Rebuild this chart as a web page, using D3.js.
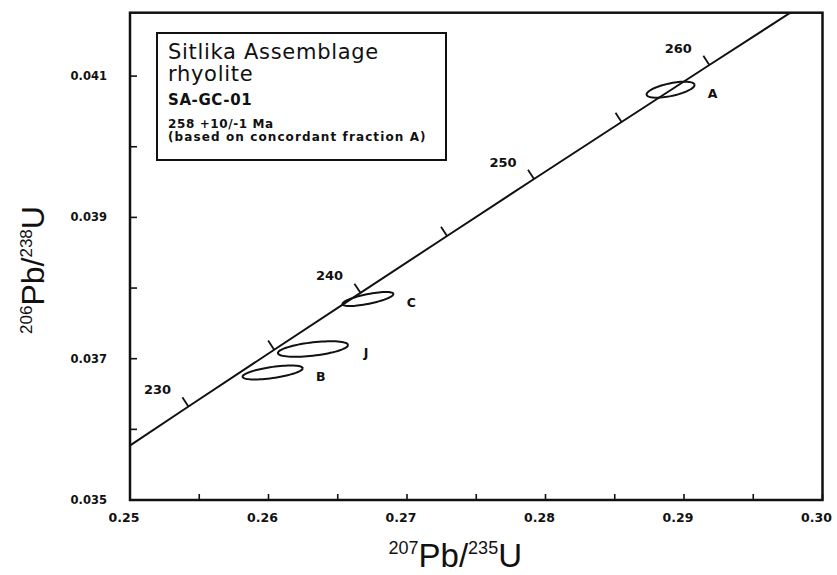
<!DOCTYPE html>
<head>
  <meta charset="utf-8">
  <script src="https://d3js.org/d3.v7.min.js"></script>
  <style>
    body { margin:0; background:#fff; }
    text { font-family: "DejaVu Sans", sans-serif; fill:#111; }
    .frame { fill:none; stroke:#111; stroke-width:2.5px; }
    .concordia { fill:none; stroke:#111; stroke-width:2px; }
    .ellipse { fill:none; stroke:#111; stroke-width:2px; }
    .tick line { stroke:#111; stroke-width:1.6px; }
    .lbl { font-weight:bold; font-size:12px; }
  </style>
</head>

<body>
  <script>
    // concordia points (age in Ma, 207Pb/235U, 206Pb/238U)
    var concAge = [225, 230, 235, 240, 245, 250, 255, 260, 265, 270];
    var concX = [0.24806, 0.25422, 0.26041, 0.26664, 0.27289, 0.27917, 0.28549, 0.29183, 0.29821, 0.30462];
    var concY = [0.035519, 0.036323, 0.037127, 0.037932, 0.038737, 0.039543, 0.040350, 0.041157, 0.041965, 0.042773];
    var tickAges = [230, 235, 240, 245, 250, 255, 260];
    var labelAges = [230, 240, 250, 260];

    // zircon fractions: centre, half widths and error correlation
    var fracName = ["A", "B", "C", "J"];
    var fracX = [0.28903, 0.26030, 0.26718, 0.26321];
    var fracY = [0.040808, 0.036805, 0.037845, 0.037137];
    var fracSx = [0.00173, 0.00217, 0.00184, 0.00253];
    var fracSy = [0.000113, 0.000099, 0.000099, 0.000110];
    var fracRho = [0.59, 0.60, 0.71, 0.51];

    var xTicks = [0.25, 0.26, 0.27, 0.28, 0.29, 0.30];
    var xTickLabels = ["0.25", "0.26", "0.27", "0.28", "0.29", "0.30"];
    var xMinor = [0.255, 0.265, 0.275, 0.285, 0.295];
    var yTicks = [0.035, 0.037, 0.039, 0.041];
    var yTickLabels = ["0.035", "0.037", "0.039", "0.041"];
    var yMinor = [0.036, 0.038, 0.040];

    var boxLines = ["Sitlika Assemblage", "rhyolite", "SA-GC-01", "258 +10/-1 Ma", "(based on concordant fraction A)"];

    var margin = {top: 12.7, right: 14.5, bottom: 75, left: 130},
        width = 837 - margin.left - margin.right,
        height = 575 - margin.top - margin.bottom;

    var svg = d3.select("body").append("svg")
        .attr("width", 837)
        .attr("height", 575);

    var g = svg.append("g")
        .attr("transform", "translate(" + margin.left + "," + margin.top + ")");

    var x = d3.scaleLinear().domain([0.25, 0.30]).range([0, width]);
    var y = d3.scaleLinear().domain([0.035, 0.035 + height / 70650]).range([height, 0]);

    svg.append("defs").append("clipPath").attr("id", "plotclip")
      .append("rect").attr("width", width).attr("height", height);

    // bottom axis, ticks pointing inward
    var xAxis = g.append("g")
        .attr("class", "tick")
        .attr("transform", "translate(0," + height + ")");
    xAxis.selectAll("line").data(xTicks.concat(xMinor)).enter().append("line")
        .attr("x1", function(d) { return x(d); })
        .attr("x2", function(d) { return x(d); })
        .attr("y1", 0).attr("y2", -6);
    xAxis.selectAll("text").data(xTicks).enter().append("text")
        .attr("x", function(d) { return x(d) - 6; })
        .attr("y", 22)
        .attr("text-anchor", "middle")
        .style("font-size", "12.5px")
        .style("font-weight", "bold")
        .text(function(d, i) { return xTickLabels[i]; });

    // left axis
    var yAxis = g.append("g").attr("class", "tick");
    yAxis.selectAll("line").data(yTicks.concat(yMinor)).enter().append("line")
        .attr("y1", function(d) { return y(d); })
        .attr("y2", function(d) { return y(d); })
        .attr("x1", 0).attr("x2", 7);
    yAxis.selectAll("text").data(yTicks).enter().append("text")
        .attr("x", -23)
        .attr("y", function(d) { return y(d); })
        .attr("dy", "0.35em")
        .attr("text-anchor", "end")
        .style("font-size", "11.5px")
        .style("font-weight", "bold")
        .text(function(d, i) { return yTickLabels[i]; });

    g.append("rect")
        .attr("class", "frame")
        .attr("width", width)
        .attr("height", height);

    var plot = g.append("g").attr("clip-path", "url(#plotclip)");

    // concordia curve
    var conc = concAge.map(function(a, i) { return {age: a, x: concX[i], y: concY[i]}; });
    plot.append("path")
        .datum(conc)
        .attr("class", "concordia")
        .attr("d", d3.line()
          .x(function(d) { return x(d.x); })
          .y(function(d) { return y(d.y); }));

    // age ticks perpendicular to the curve
    tickAges.forEach(function(a) {
      var i = concAge.indexOf(a);
      var px = x(concX[i]), py = y(concY[i]);
      var dx = x(concX[i + 1]) - x(concX[i - 1]),
          dy = y(concY[i + 1]) - y(concY[i - 1]);
      var len = Math.sqrt(dx * dx + dy * dy);
      var nx = dy / len, ny = -dx / len;
      plot.append("line")
          .attr("x1", px).attr("y1", py)
          .attr("x2", px + nx * 11).attr("y2", py + ny * 11)
          .attr("stroke", "#111").attr("stroke-width", 1.8);
      if (labelAges.indexOf(a) >= 0) {
        g.append("text")
          .attr("class", "lbl")
          .attr("x", px - 31)
          .attr("y", py - 17)
          .attr("dy", "0.35em")
          .attr("text-anchor", "middle")
          .style("font-size", "13px")
          .text(a);
      }
    });

    // error ellipses
    var ang = d3.range(0, 73).map(function(k) { return k / 72 * 2 * Math.PI; });
    fracName.forEach(function(nm, i) {
      var r = fracRho[i];
      plot.append("path")
          .datum(ang)
          .attr("class", "ellipse")
          .attr("d", d3.line()
            .x(function(t) { return x(fracX[i] + fracSx[i] * Math.cos(t)); })
            .y(function(t) { return y(fracY[i] + fracSy[i] * (r * Math.cos(t) + Math.sqrt(1 - r * r) * Math.sin(t))); }));
      g.append("text")
          .attr("class", "lbl")
          .attr("x", x(fracX[i] + fracSx[i]) + 18)
          .attr("y", y(fracY[i]) + 4)
          .attr("dy", "0.35em")
          .attr("text-anchor", "middle")
          .style("font-size", "12.5px")
          .text(nm);
    });

    // legend box
    svg.append("rect")
        .attr("x", 157).attr("y", 33)
        .attr("width", 289).attr("height", 127)
        .attr("fill", "#fff")
        .attr("stroke", "#111").attr("stroke-width", 2);
    var boxY = [59, 81, 105, 128, 141];
    var boxSize = [21, 21, 15, 12, 12];
    var boxSpacing = [0.7, 0.7, 0.6, 0.6, 1.1];
    var boxWeight = ["normal", "normal", "bold", "bold", "bold"];
    svg.selectAll(".boxtext").data(boxLines).enter().append("text")
        .attr("class", "boxtext")
        .attr("x", 168)
        .attr("y", function(d, i) { return boxY[i]; })
        .style("font-size", function(d, i) { return boxSize[i] + "px"; })
        .style("letter-spacing", function(d, i) { return boxSpacing[i] + "px"; })
        .style("font-weight", function(d, i) { return boxWeight[i]; })
        .text(function(d) { return d; });

    // axis titles
    var xt = svg.append("text")
        .attr("x", 522).attr("y", 567)
        .attr("text-anchor", "end")
        .style("font-family", "Liberation Sans, sans-serif")
        .style("font-size", "33px");
    xt.append("tspan").attr("dy", "-13").style("font-size", "18px").text("207");
    xt.append("tspan").attr("dy", "13").text("Pb/");
    xt.append("tspan").attr("dy", "-13").style("font-size", "18px").text("235");
    xt.append("tspan").attr("dy", "13").text("U");

    var yt = svg.append("text")
        .attr("transform", "translate(44,270) rotate(-90)")
        .attr("text-anchor", "middle")
        .style("font-family", "Liberation Sans, sans-serif")
        .style("font-size", "32px");
    yt.append("tspan").attr("dy", "-12").style("font-size", "17px").text("206");
    yt.append("tspan").attr("dy", "12").text("Pb/");
    yt.append("tspan").attr("dy", "-12").style("font-size", "17px").text("238");
    yt.append("tspan").attr("dy", "12").text("U");
  </script>
</body>
